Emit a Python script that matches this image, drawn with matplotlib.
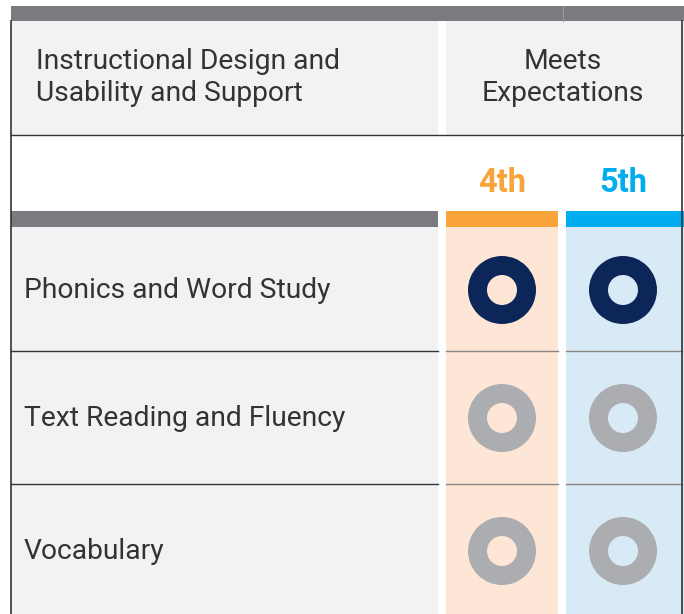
import matplotlib
matplotlib.use("Agg")
import matplotlib.pyplot as plt
from matplotlib.patches import Rectangle, Wedge

# ---- data ----
header_left = ["Instructional Design and", "Usability and Support"]
header_right = ["Meets", "Expectations"]
grades = ["4th", "5th"]
grade_colors = ["#f9a43a", "#00aeef"]
cell_colors = ["#fde6d6", "#d9eaf7"]
categories = ["Phonics and Word Study", "Text Reading and Fluency", "Vocabulary"]
# 1 = rated (navy), 0 = not rated (gray)
ratings = [[1, 1], [0, 0], [0, 0]]
rating_colors = {1: "#0c2659", 0: "#acadb0"}

plt.rcParams['font.family'] = ['Roboto', 'DejaVu Sans']

W, H = 684, 614
fig = plt.figure(figsize=(W / 100, H / 100), dpi=100)
ax = fig.add_axes([0, 0, 1, 1])
ax.set_xlim(0, W)
ax.set_ylim(H, 0)
ax.axis("off")

left_x0, left_x1 = 11, 438
col_x = [(446, 558), (566, 684)]
gray = "#7a7b7f"
light = "#f1f2f4"
txt = "#333333"
fs = 20.3

# top bar
ax.add_patch(Rectangle((left_x0, 6), W - left_x0, 15, color=gray, lw=0))
ax.plot([563, 563], [6, 21], color="#9a9b9f", lw=0.8)
# header cells
ax.add_patch(Rectangle((left_x0, 21), left_x1 - left_x0, 114, color=light, lw=0))
ax.add_patch(Rectangle((col_x[0][0], 21), W - col_x[0][0], 114, color=light, lw=0))
for k, (l, r) in enumerate(zip(header_left, header_right)):
    yb = 69 + 32 * k
    ax.text(36, yb, l, fontsize=fs, color=txt, va="baseline", ha="left")
    ax.text(563, yb, r, fontsize=fs, color=txt, va="baseline", ha="center")
ax.plot([left_x0, W], [135, 135], color="#333333", lw=1)

# grade headers and bars
ax.add_patch(Rectangle((left_x0, 211), left_x1 - left_x0, 16, color=gray, lw=0))
centers_x = [502, 623]
for j, ((x0, x1), g, c) in enumerate(zip(col_x, grades, grade_colors)):
    ax.text(centers_x[j], 192, g, fontsize=23.5, fontweight="bold", color=c,
            ha="center", va="baseline")
    ax.add_patch(Rectangle((x0, 211), x1 - x0, 16, color=c, lw=0))

# rows
row_edges = [227, 351, 484, 614]
row_centers = [290, 418, 551]
for i, cat in enumerate(categories):
    y0, y1 = row_edges[i], row_edges[i + 1]
    ax.add_patch(Rectangle((left_x0, y0), left_x1 - left_x0, y1 - y0, color=light, lw=0))
    for j, (x0, x1) in enumerate(col_x):
        ax.add_patch(Rectangle((x0, y0), x1 - x0, y1 - y0, color=cell_colors[j], lw=0))
    cy = row_centers[i]
    ax.text(24, cy + 8, cat, fontsize=fs, color=txt, va="baseline", ha="left")
    for j in range(len(grades)):
        ax.add_patch(Wedge((centers_x[j], cy), 34, 0, 360, width=19,
                           color=rating_colors[ratings[i][j]], lw=0))
    if i < len(categories) - 1:
        ax.plot([left_x0, left_x1], [y1, y1], color="#333333", lw=1)
        for (x0, x1) in col_x:
            ax.plot([x0, min(x1, 682)], [y1, y1], color="#8b8682", lw=1)

# borders
ax.plot([left_x0, left_x0], [21, H], color="#333333", lw=1.2)
ax.plot([682, 682], [21, H], color="#333333", lw=1.2)

fig.savefig("out.png", dpi=100)
